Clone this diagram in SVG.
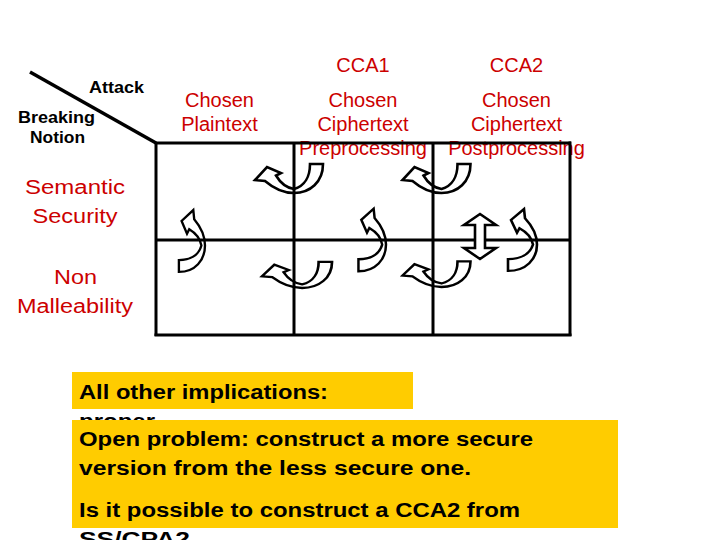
<svg xmlns="http://www.w3.org/2000/svg" xmlns:xlink="http://www.w3.org/1999/xlink" width="720" height="540" viewBox="0 0 720 540">
<style>
  text { font-family: "Liberation Sans", Arial, sans-serif; }
  .hdr { font-size: 20px; fill: #cc0000; text-anchor: middle; }
  .row { font-size: 20px; fill: #cc0000; text-anchor: middle; }
  .corner { font-size: 16px; font-weight: bold; fill: #000; }
  .note { font-size: 20px; font-weight: bold; fill: #000; }
  .grid { stroke: #000; stroke-width: 3; fill: none; }
  .arr { fill: none; stroke: #000; stroke-width: 2.6; stroke-linejoin: miter; }
  .box { fill: #ffcc00; }
</style>
<defs>
  <path id="curved" d="M 34,-29 C 34,-11 21,0 5,0 C -6,0 -17,-6 -24,-12 L -34,-13 L -22,-26 L -8,-20 L -13,-17.5 C -8,-9 -1,-5 5,-4 C 16,-7 21,-17 21,-29 Z"/>
</defs>

<g id="header">
  <line x1="30" y1="72" x2="156" y2="143" stroke="#000" stroke-width="3.5"/>
  <text class="corner" x="89" y="93" textLength="55" lengthAdjust="spacingAndGlyphs">Attack</text>
  <text class="corner" x="18" y="123" textLength="77" lengthAdjust="spacingAndGlyphs">Breaking</text>
  <text class="corner" x="30" y="143" textLength="55" lengthAdjust="spacingAndGlyphs">Notion</text>
</g>

<g id="col-cpa">
  <text class="hdr" x="219.5" y="107">Chosen</text>
  <text class="hdr" x="219.5" y="131">Plaintext</text>
</g>
<g id="col-cca1">
  <text class="hdr" x="363" y="72">CCA1</text>
  <text class="hdr" x="363" y="107">Chosen</text>
  <text class="hdr" x="363" y="131">Ciphertext</text>
  <text class="hdr" x="363" y="155">Preprocessing</text>
</g>
<g id="col-cca2">
  <text class="hdr" x="516.5" y="72">CCA2</text>
  <text class="hdr" x="516.5" y="107">Chosen</text>
  <text class="hdr" x="516.5" y="131">Ciphertext</text>
  <text class="hdr" x="516.5" y="155">Postprocessing</text>
</g>
<g id="row-ss">
  <text class="row" x="75" y="194" textLength="100" lengthAdjust="spacingAndGlyphs">Semantic</text>
  <text class="row" x="75" y="223" textLength="85" lengthAdjust="spacingAndGlyphs">Security</text>
</g>
<g id="row-nm">
  <text class="row" x="75.5" y="284" textLength="43" lengthAdjust="spacingAndGlyphs">Non</text>
  <text class="row" x="75" y="313" textLength="116" lengthAdjust="spacingAndGlyphs">Malleability</text>
</g>

<g id="grid">
  <line class="grid" x1="156" y1="143" x2="571" y2="143"/>
  <line class="grid" x1="156" y1="240" x2="571" y2="240"/>
  <line class="grid" x1="154.5" y1="335" x2="571.5" y2="335"/>
  <line class="grid" x1="156" y1="143" x2="156" y2="336"/>
  <line class="grid" x1="294" y1="143" x2="294" y2="336"/>
  <line class="grid" x1="433" y1="143" x2="433" y2="336"/>
  <line class="grid" x1="570" y1="141.5" x2="570" y2="336"/>
</g>

<g id="connectors">
  <use xlink:href="#curved" class="arr" transform="translate(289,193)"/>
  <use xlink:href="#curved" class="arr" transform="translate(297,288) scale(1.03,0.9)"/>
  <use xlink:href="#curved" class="arr" transform="translate(436.5,193)"/>
  <use xlink:href="#curved" class="arr" transform="translate(436.5,287) scale(1,0.88)"/>
  <use xlink:href="#curved" class="arr" transform="matrix(0,0.91,0.9,0,205,241)"/>
  <use xlink:href="#curved" class="arr" transform="matrix(0,0.92,0.95,0,386,240)"/>
  <use xlink:href="#curved" class="arr" transform="matrix(0,0.91,1.0,0,537,240)"/>
  <path class="arr" style="fill:#fff" d="M 480,214 L 496,225 L 485,225 L 485,248 L 496,248 L 480,259 L 464,248 L 475,248 L 475,225 L 464,225 Z"/>
</g>

<g id="note1">
  <rect class="box" x="72" y="372" width="341" height="37"/>
  <text class="note" x="79" y="399" textLength="249" lengthAdjust="spacingAndGlyphs">All other implications:</text>
  <text class="note" x="79" y="428" textLength="76" lengthAdjust="spacingAndGlyphs">proper</text>
</g>
<g id="note2">
  <rect class="box" x="72" y="420" width="546" height="108"/>
  <text class="note" x="79" y="446" textLength="454" lengthAdjust="spacingAndGlyphs">Open problem: construct a more secure</text>
  <text class="note" x="79" y="475" textLength="392" lengthAdjust="spacingAndGlyphs">version from the less secure one.</text>
  <text class="note" x="79" y="517" textLength="441" lengthAdjust="spacingAndGlyphs">Is it possible to construct a CCA2 from</text>
  <text class="note" x="79" y="546" textLength="111" lengthAdjust="spacingAndGlyphs">SS/CPA2</text>
</g>
</svg>
